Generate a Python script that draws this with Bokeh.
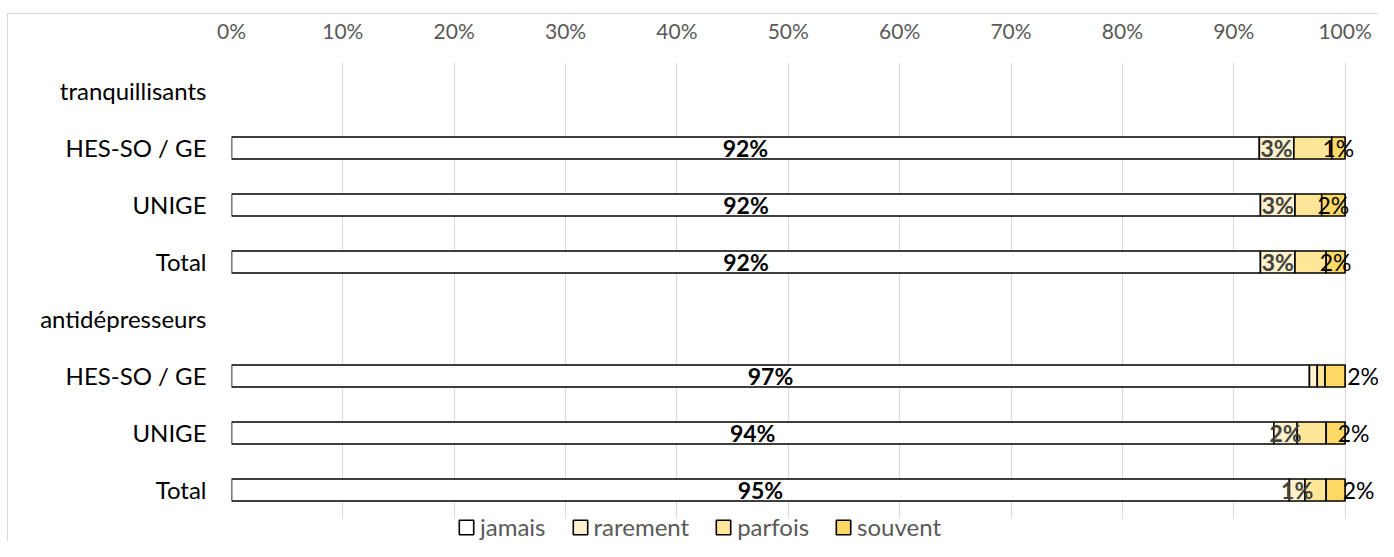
from bokeh.plotting import figure
from bokeh.models import (ColumnDataSource, Range1d, FixedTicker, NumeralTickFormatter,
                          LabelSet, Legend, LegendItem, BoxAnnotation)
from bokeh.core.properties import value
from bokeh.embed import file_html
from bokeh.resources import INLINE

# ---- data ----
groups = ["tranquillisants", "antidépresseurs"]
subgroups = ["HES-SO / GE", "UNIGE", "Total"]
series = ["jamais", "rarement", "parfois", "souvent"]
jamais = [0.923, 0.924, 0.924, 0.968, 0.936, 0.950]
rarement = [0.031, 0.031, 0.031, 0.007, 0.021, 0.014]
parfois = [0.034, 0.024, 0.028, 0.007, 0.026, 0.019]
souvent = [0.012, 0.021, 0.017, 0.018, 0.017, 0.017]
tick_values = [0, 0.1, 0.2, 0.3, 0.4, 0.5, 0.6, 0.7, 0.8, 0.9, 1.0]

# which data labels are shown in the reference
show_jamais = [True] * 6
show_rarement = [True, True, True, False, True, True]
show_souvent = [True] * 6

# ---- build rows ----
categories = []
data_rows = []
for g in groups:
    categories.append(g)
    for s in subgroups:
        data_rows.append(len(categories))
        categories.append(s)

colors = ["#FFFFFF", "#FFF2CC", "#FFE699", "#FFD966"]
FONT = "Lato"

# layout: extra room to the right (outside labels) and below (legend)
X_MAX = 1.03
Y_LAST = len(categories) - 0.5
Y_BOTTOM = Y_LAST + 0.404

p = figure(width=1378, height=541, output_backend="svg", toolbar_location=None,
           x_range=Range1d(0, X_MAX), y_range=Range1d(Y_BOTTOM, -0.5),
           x_axis_location="above",
           min_border_left=231, min_border_right=0, min_border_top=62, min_border_bottom=0)
p.outline_line_color = None
p.background_fill_color = None
p.border_fill_color = None
# chart-area border (only its top and left edges fall inside the picture)
p.styles = {"background": ("linear-gradient(#d9d9d9, #d9d9d9) 7px 13px / 1px 100% no-repeat, "
                           "linear-gradient(#d9d9d9, #d9d9d9) 7px 13px / 100% 1px no-repeat, white")}

src = ColumnDataSource(dict(y=data_rows, jamais=jamais, rarement=rarement,
                            parfois=parfois, souvent=souvent))
rends = p.hbar_stack(series, y="y", height=0.386, source=src,
                     fill_color=colors, line_color="black", line_width=1.6)

# x axis (top)
ax = p.xaxis[0]
ax.ticker = FixedTicker(ticks=tick_values)
ax.formatter = NumeralTickFormatter(format="0%")
ax.axis_line_color = None
ax.major_tick_line_color = None
ax.minor_tick_line_color = None
ax.major_tick_out = 0
ax.major_label_text_font = FONT
ax.major_label_text_font_size = "21px"
ax.major_label_text_color = "#595959"
ax.major_label_standoff = 20

# y axis
ay = p.yaxis[0]
ay.ticker = FixedTicker(ticks=list(range(len(categories))))
ay.major_label_overrides = {i: c for i, c in enumerate(categories)}
ay.axis_line_color = None
ay.major_tick_line_color = None
ay.minor_tick_line_color = None
ay.major_tick_out = 0
ay.major_label_text_font = FONT
ay.major_label_text_font_size = "24px"
ay.major_label_text_color = "#000000"
ay.major_label_standoff = 25

p.xgrid.grid_line_color = "#d9d9d9"
p.xgrid.grid_line_width = 1
p.ygrid.grid_line_color = None

# gridlines stop at the last category; area beneath holds the legend
p.add_layout(BoxAnnotation(top=Y_LAST, bottom=Y_BOTTOM, fill_color="white", fill_alpha=1,
                           line_color=None))

# ---- data labels ----
def pct(v):
    return f"{round(v * 100):.0f}%"

starts_r = jamais
starts_s = [j + r + pa for j, r, pa in zip(jamais, rarement, parfois)]

lab_j = dict(x=[v / 2 for v in jamais], y=data_rows,
             t=[pct(v) if s else "" for v, s in zip(jamais, show_jamais)])
lab_r = dict(x=[a + v / 2 for a, v in zip(starts_r, rarement)], y=data_rows,
             t=[pct(v) if s else "" for v, s in zip(rarement, show_rarement)])
souvent_offsets = [0, 0, 0, 28, 18, 23]
lab_s = dict(x=[a + v / 2 for a, v in zip(starts_s, souvent)], y=data_rows,
             t=[pct(v) if s else "" for v, s in zip(souvent, show_souvent)],
             off=souvent_offsets)

p.add_layout(LabelSet(x="x", y="y", text="t", source=ColumnDataSource(lab_j),
                      text_align="center", text_baseline="middle", text_font=value(FONT),
                      text_font_size="23px", text_font_style="bold", text_color="#000000"))
p.add_layout(LabelSet(x="x", y="y", text="t", source=ColumnDataSource(lab_r),
                      text_align="center", text_baseline="middle", text_font=value(FONT),
                      text_font_size="23px", text_font_style="bold", text_color="#404040"))
p.add_layout(LabelSet(x="x", y="y", text="t", x_offset="off", source=ColumnDataSource(lab_s),
                      text_align="center", text_baseline="middle", text_font=value(FONT),
                      text_font_size="23px", text_color="#000000"))

# ---- legend (placed under the bars) ----
legend = Legend(items=[LegendItem(label=s, renderers=[r]) for s, r in zip(series, rends)],
                orientation="horizontal", location=(226, 0),
                label_text_font=FONT, label_text_font_size="24px", label_text_color="#595959",
                label_height=24, glyph_width=18, glyph_height=18, label_standoff=5, spacing=25,
                padding=1, margin=0, border_line_color=None, background_fill_alpha=0)
p.add_layout(legend, "center")

open("out.html", "w").write(file_html(p, INLINE))
